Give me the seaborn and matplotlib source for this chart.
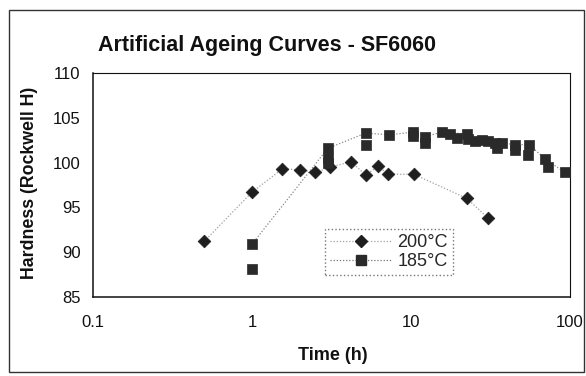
import matplotlib
matplotlib.use("Agg")
import matplotlib.pyplot as plt
import seaborn as sns
import numpy as np
import pandas as pd
from matplotlib.lines import Line2D
from matplotlib.patches import Rectangle
from matplotlib.ticker import FixedLocator, FixedFormatter, NullLocator

# ---- data ----
t200 = [0.5, 1.0, 1.55, 2.0, 2.5, 3.1, 4.2, 5.2, 6.2, 7.2, 10.4, 22.5, 30.5]
h200 = [91.2, 96.7, 99.3, 99.2, 98.9, 99.5, 100.1, 98.6, 99.6, 98.7, 98.7, 96.0, 93.8]

t185 = [1.0, 1.0, 3.0, 3.0, 3.0, 5.2, 5.2, 7.3, 10.3, 10.3, 12.3, 12.3, 15.6, 17.6,
        19.4, 22.4, 22.8, 25.1, 27.8, 30.6, 33.7, 34.5, 37.2, 45.0, 45.0, 55.5,
        54.5, 69.7, 73.0, 93.0]
h185 = [90.9, 88.1, 101.6, 100.5, 100.0, 103.3, 102.0, 103.1, 103.4, 103.0, 102.9,
        102.2, 103.4, 103.2, 102.7, 103.2, 102.6, 102.4, 102.5, 102.4, 102.2, 101.6,
        102.2, 102.0, 101.4, 102.0, 100.8, 100.4, 99.5, 98.9]

t185_line = [1.0, 3.0, 5.2, 7.3, 10.3, 12.3, 15.6, 22.4, 30.6, 37.2, 45.0, 55.5, 69.7, 93.0, 110.0]
h185_line = [90.9, 101.6, 103.3, 103.1, 103.4, 102.9, 103.4, 103.2, 102.4, 102.2, 102.0, 102.0, 100.4, 98.9, 98.5]

x_ticks = [0.1, 1, 10, 100]
x_tick_labels = ["0.1", "1", "10", "100"]
y_ticks = [85, 90, 95, 100, 105, 110]

title = "Artificial Ageing Curves - SF6060"
xlabel = "Time (h)"
ylabel = "Hardness (Rockwell H)"
series_labels = ["200\u00b0C", "185\u00b0C"]

# ---- styling ----
sns.set_style("white")
plt.rcParams["font.family"] = ["Liberation Sans", "DejaVu Sans"]

fig = plt.figure(figsize=(5.86, 3.76), dpi=100)
ax = fig.add_axes([93/586, 1-297/376, (570-93)/586, (297-73)/376])

mark_col = "#1e1e1e"
line_col = "#a0a0a0"

df200 = pd.DataFrame({"t": t200, "h": h200})
df185 = pd.DataFrame({"t": t185, "h": h185})
df185l = pd.DataFrame({"t": t185_line, "h": h185_line})

sns.lineplot(data=df200, x="t", y="h", ax=ax, sort=False, estimator=None,
             color=line_col, linestyle=(0, (1, 1.5)), linewidth=0.9)
sns.lineplot(data=df185l, x="t", y="h", ax=ax, sort=False, estimator=None,
             color="#888888", linestyle=(0, (1, 1.5)), linewidth=0.9)
sns.scatterplot(data=df200, x="t", y="h", ax=ax, marker="D", s=42,
                color=mark_col, edgecolor=mark_col, linewidth=0.5, zorder=5)
sns.scatterplot(data=df185, x="t", y="h", ax=ax, marker="s", s=50,
                color="#2a2a2a", edgecolor="#2a2a2a", linewidth=0.5, zorder=5)

ax.set_xscale("log")
ax.set_xlim(0.1, 100)
ax.set_ylim(85, 110)
ax.xaxis.set_major_locator(FixedLocator(x_ticks))
ax.xaxis.set_major_formatter(FixedFormatter(x_tick_labels))
ax.xaxis.set_minor_locator(NullLocator())
ax.set_yticks(y_ticks)
ax.set_xlabel("")
ax.set_ylabel("")

for sp in ax.spines.values():
    sp.set_visible(True)
    sp.set_color("#111111")
    sp.set_linewidth(1.1)
ax.spines["top"].set_linewidth(0.8)
ax.spines["right"].set_linewidth(0.8)

ax.tick_params(axis="both", which="major", direction="inout", length=6, width=1,
               color="#111111", labelsize=12, labelcolor="#111111")
ax.tick_params(axis="x", pad=10)
ax.tick_params(axis="y", pad=6)

fig.text(267/586, 1-45/376, title, ha="center", va="center", fontsize=15.5,
         fontweight="bold", color="#111111")
fig.text(333/586, 1-356/376, xlabel, ha="center", va="center", fontsize=13,
         fontweight="bold", color="#111111")
fig.text(30/586, 1-183/376, ylabel, ha="center", va="center", fontsize=12.8,
         fontweight="bold", rotation=90, color="#111111")

handles = [
    Line2D([], [], color=line_col, linestyle=(0, (1, 1.5)), linewidth=0.9,
           marker="D", markersize=6, markerfacecolor=mark_col, markeredgecolor=mark_col),
    Line2D([], [], color="#777777", linestyle=(0, (1, 1.5)), linewidth=0.9,
           marker="s", markersize=6.5, markerfacecolor="#2a2a2a", markeredgecolor="#2a2a2a"),
]
leg = ax.legend(handles, series_labels, loc="upper left",
                bbox_to_anchor=(325/586, 1-229/376), bbox_transform=fig.transFigure,
                fontsize=13, frameon=True, fancybox=False, handlelength=3.4,
                handletextpad=0.3, borderpad=0.3, labelspacing=0.08,
                borderaxespad=0)
fr = leg.get_frame()
fr.set_edgecolor("#555555")
fr.set_linestyle(":")
fr.set_linewidth(1.0)

# outer border
fig.patches.append(Rectangle((9/586, 1-372/376), (584-9)/586, (372-10)/376,
                             transform=fig.transFigure, fill=False,
                             edgecolor="#333333", linewidth=1.0))

fig.savefig("out.png", dpi=100)
